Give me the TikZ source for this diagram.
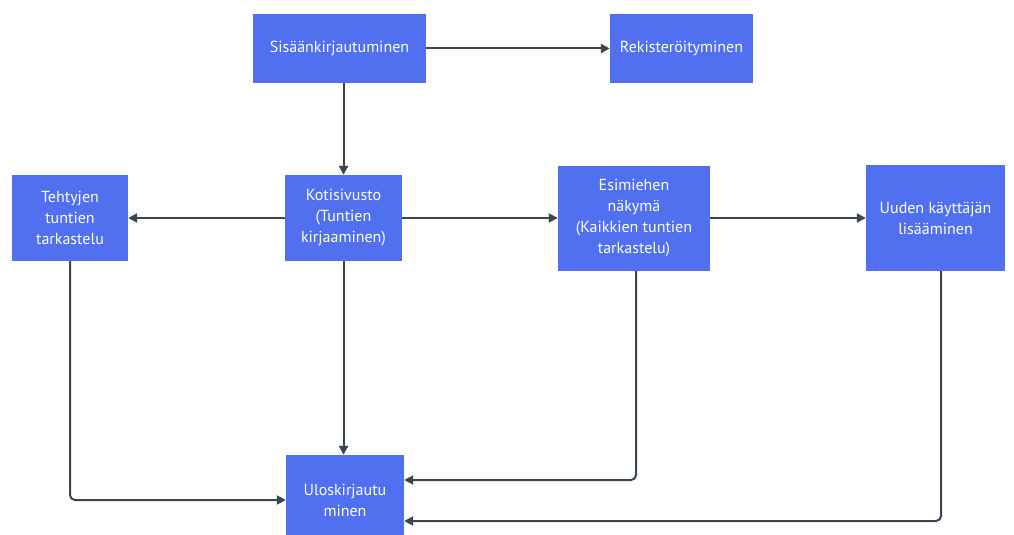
\documentclass[tikz,border=0pt]{standalone}
\usepackage{fontspec}
\setmainfont{PT Sans}
\usetikzlibrary{arrows.meta,calc}
\definecolor{boxblue}{RGB}{80,112,240}
\definecolor{linecol}{RGB}{55,70,80}
\tikzset{
  flowbox/.style={rectangle, fill=boxblue, text=white, inner sep=2pt, align=center,
    font=\fontsize{16}{21}\selectfont},
  conn/.style={draw=linecol, line width=2pt, rounded corners=5pt,
    -{Triangle[length=9pt,width=9pt]}}
}
\begin{document}
\begin{tikzpicture}[x=1pt,y=-1pt]
\useasboundingbox (0,0) rectangle (1014,535);
\fill[white] (0,0) rectangle (1014,535);
\node[flowbox, minimum width=173pt, minimum height=69pt] (sisaan) at (339.5,48.5) {Sisäänkirjautuminen};
\node[flowbox, minimum width=143pt, minimum height=69pt] (rekis) at (681.5,48.5) {Rekisteröityminen};
\node[flowbox, minimum width=116pt, minimum height=86pt] (teht) at (70,218) {Tehtyjen\\tuntien\\tarkastelu};
\node[flowbox, minimum width=117pt, minimum height=86pt] (koti) at (343.5,218) {Kotisivusto\\(Tuntien\\kirjaaminen)};
\node[flowbox, minimum width=152pt, minimum height=105pt] (esim) at (634,218.5) {Esimiehen\\näkymä\\(Kaikkien tuntien\\tarkastelu)};
\node[flowbox, minimum width=139pt, minimum height=106pt] (uuden) at (935.5,218) {Uuden käyttäjän\\lisääminen};
\node[flowbox, minimum width=118pt, minimum height=90pt] (ulos) at (345,500) {Uloskirjautu\\minen};

\draw[conn] (sisaan.east) -- (rekis.west);
\draw[conn] (koti.north |- sisaan.south) -- (koti.north);
\draw[conn] (koti.west) -- (teht.east);
\draw[conn] (koti.east) -- (esim.west |- koti.east);
\draw[conn] (esim.east |- koti.east) -- (uuden.west |- koti.east);
\draw[conn] (teht.south) |- (ulos.west);
\draw[conn] (koti.south) -- (koti.south |- ulos.north);
\coordinate (e1) at ($(ulos.east)+(0,-20)$);
\coordinate (e2) at ($(ulos.east)+(0,21)$);
\draw[conn] ($(esim.south)+(2,0)$) |- (e1);
\draw[conn] ($(uuden.south)+(5.5,0)$) |- (e2);
\end{tikzpicture}
\end{document}
